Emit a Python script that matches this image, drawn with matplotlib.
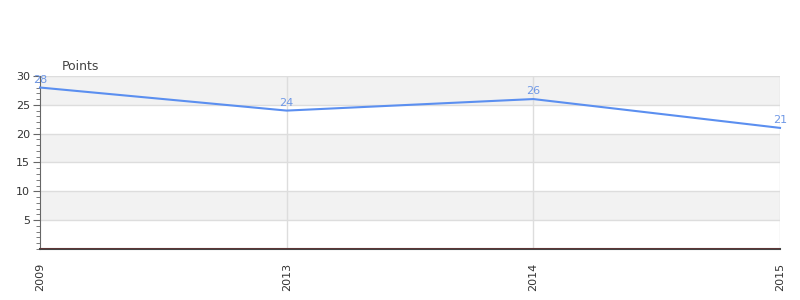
import matplotlib
matplotlib.use("Agg")
import matplotlib.pyplot as plt
from matplotlib.ticker import MultipleLocator

categories = ["2009", "2013", "2014", "2015"]
points = [28, 24, 26, 21]
y_ticks = [5, 10, 15, 20, 25, 30]

fig = plt.figure(figsize=(8, 3), dpi=100)
ax = fig.add_axes([0.05, 0.17, 0.925, 0.5767])

x = list(range(len(categories)))
ax.set_xlim(0, len(categories) - 1)
ax.set_ylim(0, 30)

# alternating bands
for lo in range(0, 30, 5):
    if (lo // 5) % 2 == 1:
        ax.axhspan(lo, lo + 5, color="#f2f2f2", zorder=0, lw=0)
for t in y_ticks:
    ax.axhline(t, color="#dddddd", lw=1, zorder=1)
for xi in x[1:]:
    ax.axvline(xi, color="#dddddd", lw=1, zorder=1)

line_color = "#5b8ff0"
ax.plot(x, points, color=line_color, lw=1.5, zorder=3, clip_on=False)
for xi, v in zip(x, points):
    ax.annotate(str(v), (xi, v), xytext=(0, 2), textcoords="offset points",
                ha="center", va="bottom", fontsize=8, color="#6f98e6", zorder=4)

ax.axhline(0, color="#cc0000", lw=1, zorder=4)

ax.set_xticks(x)
ax.set_xticklabels(categories, rotation=90, fontsize=8, color="#333333")
ax.set_yticks(y_ticks)
ax.set_yticklabels([str(t) for t in y_ticks], fontsize=8, color="#333333")
ax.yaxis.set_minor_locator(MultipleLocator(1))
ax.tick_params(axis="y", which="major", length=5, color="#666666", pad=2)
ax.tick_params(axis="y", which="minor", length=3, color="#666666")
ax.tick_params(axis="x", length=0, pad=10)

for s in ["top", "right"]:
    ax.spines[s].set_visible(False)
ax.spines["left"].set_color("#666666")
ax.spines["bottom"].set_color("#444444")
ax.spines["bottom"].set_linewidth(1.5)

fig.text(62 / 800, 1 - 66 / 300, "Points", fontsize=9, color="#444444", ha="left", va="center")

fig.savefig("out.png", dpi=100)
